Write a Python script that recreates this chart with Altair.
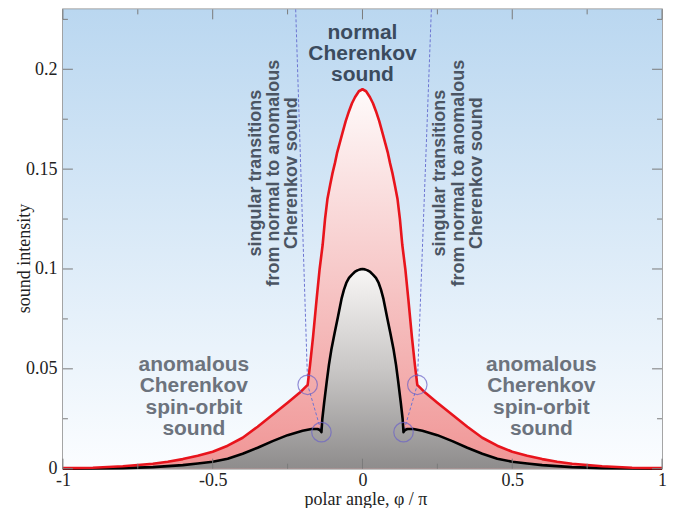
import altair as alt
import pandas as pd

# ---------------- data ----------------
phi_red = [-1.0, -0.9, -0.8, -0.7, -0.65, -0.6, -0.55, -0.5, -0.45, -0.4, -0.35, -0.3, -0.25, -0.21,
           -0.183, -0.175, -0.165, -0.153, -0.143, -0.133, -0.125, -0.117, -0.108, -0.1, -0.092,
           -0.085, -0.076, -0.067, -0.056, -0.045, -0.035, -0.025, -0.012, 0.0,
           0.012, 0.025, 0.035, 0.045, 0.056, 0.067, 0.076, 0.085, 0.092, 0.1, 0.108,
           0.117, 0.125, 0.133, 0.143, 0.153, 0.165, 0.175, 0.183,
           0.21, 0.25, 0.3, 0.35, 0.4, 0.45, 0.5, 0.55, 0.6, 0.65, 0.7, 0.8, 0.9, 1.0]
red = [0.0003, 0.0005, 0.0012, 0.0025, 0.0035, 0.0048, 0.0065, 0.0085, 0.0115, 0.0155, 0.021, 0.027, 0.033, 0.038,
       0.042, 0.052, 0.066, 0.085, 0.1, 0.112, 0.125, 0.135, 0.142, 0.148, 0.153,
       0.158, 0.163, 0.168, 0.174, 0.179, 0.183, 0.186, 0.189, 0.19,
       0.189, 0.186, 0.183, 0.179, 0.174, 0.168, 0.163, 0.158, 0.153, 0.148, 0.142,
       0.135, 0.125, 0.112, 0.1, 0.085, 0.066, 0.052, 0.042,
       0.038, 0.033, 0.027, 0.021, 0.0155, 0.0115, 0.0085, 0.0065, 0.0048, 0.0035, 0.0025, 0.0012, 0.0005, 0.0003]

phi_blk = [-1.0, -0.9, -0.8, -0.7, -0.6, -0.55, -0.5, -0.45, -0.4, -0.35, -0.3, -0.25, -0.2, -0.17,
           -0.15, -0.142, -0.137, -0.134, -0.128, -0.119, -0.112, -0.104, -0.093, -0.082,
           -0.07, -0.062, -0.054, -0.045, -0.035, -0.026, -0.017, -0.008, 0.0,
           0.008, 0.017, 0.026, 0.035, 0.045, 0.054, 0.062, 0.07, 0.082, 0.093,
           0.104, 0.112, 0.119, 0.128, 0.134, 0.137, 0.142, 0.15, 0.17, 0.2, 0.25, 0.3,
           0.35, 0.4, 0.45, 0.5, 0.55, 0.6, 0.7, 0.8, 0.9, 1.0]
blk = [0.0, 0.0001, 0.0003, 0.0008, 0.0018, 0.0026, 0.0035, 0.005, 0.0075, 0.0105, 0.0138, 0.0168, 0.019, 0.0199,
       0.0199, 0.0194, 0.0183, 0.025, 0.033, 0.044, 0.052, 0.0595, 0.068, 0.076,
       0.085, 0.0895, 0.093, 0.0955, 0.0972, 0.0985, 0.0993, 0.0998, 0.1,
       0.0998, 0.0993, 0.0985, 0.0972, 0.0955, 0.093, 0.0895, 0.085, 0.076, 0.068,
       0.0595, 0.052, 0.044, 0.033, 0.025, 0.0183, 0.0194, 0.0199, 0.0199, 0.019, 0.0168, 0.0138,
       0.0105, 0.0075, 0.005, 0.0035, 0.0026, 0.0018, 0.0008, 0.0003, 0.0001, 0.0]

# singular transition markers
circ_phi = [-0.183, -0.137, 0.183, 0.137]
circ_val = [0.042, 0.0183, 0.042, 0.0183]

# dashed guide lines (top of frame -> upper circle -> lower circle)
guide_grp = ["L", "L", "L", "R", "R", "R"]
guide_ord = [0, 1, 2, 0, 1, 2]
guide_phi = [-0.223, -0.183, -0.137, 0.23, 0.183, 0.137]
guide_val = [0.23, 0.042, 0.0183, 0.23, 0.042, 0.0183]

# annotations (position = first line)
normal_txt = ["normal\nCherenkov\nsound"]
normal_pos = [(0.0, 0.218)]
anom_txt = ["anomalous\nCherenkov\nspin-orbit\nsound"] * 2
anom_pos = [(-0.563, 0.052), (0.597, 0.052)]
sing_txt = ["singular transitions\nfrom normal to anomalous\nCherenkov sound"] * 2
sing_pos = [(-0.357, 0.148), (0.26, 0.148)]

# ticks
x_major = [-1, -0.5, 0, 0.5, 1]
x_minor = [-0.75, -0.25, 0.25, 0.75]
y_major = [0, 0.05, 0.1, 0.15, 0.2]
y_minor = [0.025, 0.075, 0.125, 0.175, 0.225]

# ---------------- chart ----------------
W, H = 600, 460
xsc = alt.Scale(domain=[-1, 1], nice=False, zero=False)
ysc = alt.Scale(domain=[0, 0.23], nice=False, zero=False)
SERIF = "Liberation Serif"
SANS = "Liberation Sans"
TICK = "#7a7a7a"

xaxis = alt.Axis(values=x_major, labelExpr="'' + datum.value", tickSize=0, domain=False,
                 grid=False, labelFont=SERIF, labelFontSize=18, labelColor="#222",
                 labelPadding=3, labelFlush=False, title="polar angle, φ / π",
                 titleFont=SERIF, titleFontSize=18, titleFontWeight="normal",
                 titleColor="#222", titleX=303, titleY=31, titleBaseline="middle")
yaxis = alt.Axis(values=y_major, labelExpr="'' + datum.value", tickSize=0, domain=False,
                 grid=False, labelFont=SERIF, labelFontSize=18, labelColor="#222",
                 labelPadding=6, labelFlush=False, title="sound intensity",
                 titleFont=SERIF, titleFontSize=18, titleFontWeight="normal",
                 titleColor="#222", titleX=-38, titleY=249, titleBaseline="middle",
                 titleAlign="center")
X = alt.X("phi:Q", scale=xsc, axis=xaxis)
Y = alt.Y("val:Q", scale=ysc, axis=yaxis)

df_red = pd.DataFrame({"phi": phi_red, "val": red})
df_blk = pd.DataFrame({"phi": phi_blk, "val": blk})

bg = alt.Chart(pd.DataFrame({"a": [0]})).mark_rect(
    color=alt.Gradient(gradient="linear", x1=0, x2=0, y1=0, y2=1,
                       stops=[alt.GradientStop(color="#bad7f0", offset=0),
                              alt.GradientStop(color="#fbfdff", offset=1)])
).encode(x=alt.value(0), x2=alt.value(W), y=alt.value(0), y2=alt.value(H))

red_area = alt.Chart(df_red).mark_area(
    interpolate="linear",
    color=alt.Gradient(gradient="linear", x1=0, x2=0, y1=0, y2=1,
                       stops=[alt.GradientStop(color="#fefafa", offset=0),
                              alt.GradientStop(color="#f6c2c2", offset=0.55),
                              alt.GradientStop(color="#f09595", offset=1)])
).encode(x=X, y=Y)

blk_area = alt.Chart(df_blk).mark_area(
    interpolate="linear",
    color=alt.Gradient(gradient="linear", x1=0, x2=0, y1=0, y2=1,
                       stops=[alt.GradientStop(color="#f8f6f5", offset=0),
                              alt.GradientStop(color="#c9c7c6", offset=0.5),
                              alt.GradientStop(color="#8e8c8c", offset=1)])
).encode(x=X, y=Y)

guides = alt.Chart(pd.DataFrame({"g": guide_grp, "o": guide_ord, "phi": guide_phi, "val": guide_val})).mark_line(
    color="#6c74d2", strokeWidth=1, strokeDash=[3, 2]
).encode(x=X, y=Y, detail="g:N", order="o:Q")

blk_line = alt.Chart(df_blk).mark_line(color="black", strokeWidth=2.6, interpolate="linear",
                                       strokeJoin="round").encode(x=X, y=Y)
red_line = alt.Chart(df_red).mark_line(color="#e8141c", strokeWidth=2.6, interpolate="linear",
                                       strokeJoin="round").encode(x=X, y=Y)

circles = alt.Chart(pd.DataFrame({"phi": circ_phi, "val": circ_val})).mark_point(
    shape="circle", filled=False, size=380, color="#6c63c8", strokeWidth=1.2
).encode(x=X, y=Y)


def text_layer(txts, pos, color, size, lh, angle=0):
    df = pd.DataFrame({"t": txts, "phi": [p[0] for p in pos], "val": [p[1] for p in pos]})
    return alt.Chart(df).mark_text(
        font=SANS, fontWeight="bold", fontSize=size, color=color, lineBreak="\n",
        lineHeight=lh, align="center", baseline="middle", angle=angle
    ).encode(x=X, y=Y, text="t:N")


t_normal = text_layer(normal_txt, normal_pos, "#3b4b5e", 21, 21)
t_anom = text_layer(anom_txt, anom_pos, "#6c737d", 21, 21.5)
t_sing = text_layer(sing_txt, sing_pos, "#4b5563", 18, 18.5, angle=270)


def ticks(vals, axis, side, length):
    m = alt.Chart(pd.DataFrame({("phi" if axis == "x" else "val"): vals})).mark_rule(
        color=TICK, strokeWidth=1)
    if axis == "x":
        y0 = H if side == "bottom" else 0
        y1 = H - length if side == "bottom" else length
        return m.encode(x=X, y=alt.value(y0), y2=alt.value(y1))
    x0 = 0 if side == "left" else W
    x1 = length if side == "left" else W - length
    return m.encode(y=Y, x=alt.value(x0), x2=alt.value(x1))


tick_layers = [
    ticks(x_major, "x", "bottom", 10), ticks(x_minor, "x", "bottom", 5),
    ticks(x_major, "x", "top", 10), ticks(x_minor, "x", "top", 5),
    ticks(y_major, "y", "left", 10), ticks(y_minor, "y", "left", 5),
    ticks(y_major, "y", "right", 10), ticks(y_minor, "y", "right", 5),
]

chart = alt.layer(
    bg, red_area, blk_area, guides, blk_line, red_line, circles,
    t_normal, t_anom, t_sing, *tick_layers
).properties(
    width=W, height=H,
    autosize=alt.AutoSizeParams(type="none"),
    padding={"left": 55, "top": 1, "right": 20, "bottom": 39},
    background="white",
).configure_view(stroke="#8a8a8a", strokeWidth=1.5)

chart.save("out.html", embed_options={"renderer": "svg", "actions": False})
